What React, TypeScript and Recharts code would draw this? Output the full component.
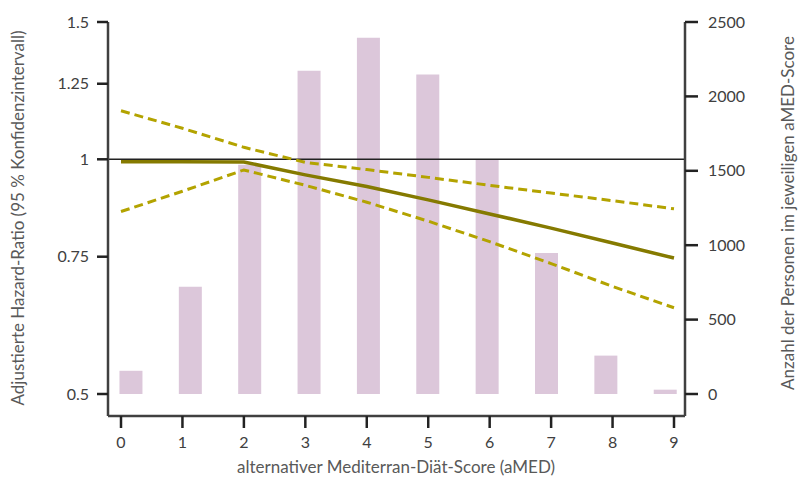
import {
  ComposedChart,
  Bar,
  Line,
  XAxis,
  YAxis,
  ReferenceLine,
} from 'recharts'

// aMED score categories
const scores = [0, 1, 2, 3, 4, 5, 6, 7, 8, 9]
// number of persons per score (right axis)
const persons = [156, 720, 1540, 2172, 2394, 2148, 1578, 947, 258, 29]
// adjusted hazard ratio and 95% CI (left axis, log scale)
const hazardRatio = [0.993, 0.993, 0.992, 0.955, 0.923, 0.887, 0.851, 0.816, 0.781, 0.747]
const upperCI = [1.154, 1.096, 1.036, 0.991, 0.97, 0.948, 0.926, 0.905, 0.885, 0.864]
const lowerCI = [0.857, 0.91, 0.969, 0.926, 0.881, 0.833, 0.784, 0.735, 0.687, 0.645]

const hrTicks = [0.5, 0.75, 1, 1.25, 1.5]
const countTicks = [0, 500, 1000, 1500, 2000, 2500]

const data = scores.map((x, i) => ({
  x,
  persons: persons[i],
  hr: hazardRatio[i],
  upper: upperCI[i],
  lower: lowerCI[i],
}))

const FONT = 'Lato, "Open Sans", sans-serif'
const tickStyle = { fontSize: 16, fill: '#404040', fontFamily: FONT }
const axisColor = '#404040'

export default function App() {
  return (
    <div style={{ position: 'absolute', left: 0, top: 0, background: '#fff' }}>
      <ComposedChart
        width={804}
        height={478}
        data={data}
        margin={{ top: 22, right: 29, bottom: 22, left: 28 }}
      >
        <XAxis
          xAxisId="main"
          dataKey="x"
          type="number"
          domain={[0, 9]}
          ticks={scores}
          padding={{ left: 13, right: 11 }}
          height={40}
          tick={tickStyle}
          tickSize={12}
          tickMargin={9}
          axisLine={{ stroke: axisColor, strokeWidth: 2.5 }}
          tickLine={{ stroke: '#222', strokeWidth: 2.5 }}
          label={{
            content: () => (
              <text
                x={396}
                y={473}
                textAnchor="middle"
                fontSize={17}
                fill="#595959"
                fontFamily={FONT}
              >
                alternativer Mediterran-Diät-Score (aMED)
              </text>
            ),
          }}
        />
        <XAxis
          xAxisId="bar"
          dataKey="x"
          type="number"
          domain={[-0.39, 9.33]}
          height={0}
          hide
        />
        <YAxis
          yAxisId="left"
          scale="log"
          domain={[0.5, 1.5]}
          ticks={hrTicks}
          allowDataOverflow
          width={80}
          padding={{ bottom: 22 }}
          tick={tickStyle}
          tickSize={11}
          tickMargin={8}
          axisLine={{ stroke: axisColor, strokeWidth: 2.5 }}
          tickLine={{ stroke: '#222', strokeWidth: 2.5 }}
          label={{
            content: () => (
              <text
                x={24}
                y={218}
                transform="rotate(-90 24 218)"
                textAnchor="middle"
                fontSize={17}
                fill="#595959"
                fontFamily={FONT}
              >
                Adjustierte Hazard-Ratio (95 % Konfidenzintervall)
              </text>
            ),
          }}
        />
        <YAxis
          yAxisId="right"
          orientation="right"
          domain={[0, 2500]}
          ticks={countTicks}
          width={90}
          padding={{ bottom: 22 }}
          tick={{ ...tickStyle, textAnchor: 'start' }}
          tickSize={13}
          tickMargin={10}
          axisLine={{ stroke: axisColor, strokeWidth: 2.5 }}
          tickLine={{ stroke: '#222', strokeWidth: 2.5 }}
          label={{
            content: () => (
              <text
                x={794}
                y={213}
                transform="rotate(-90 794 213)"
                textAnchor="middle"
                fontSize={17}
                fill="#595959"
                fontFamily={FONT}
              >
                Anzahl der Personen im jeweiligen aMED-Score
              </text>
            ),
          }}
        />
        <Bar
          xAxisId="bar"
          yAxisId="right"
          dataKey="persons"
          fill="#dcc7da"
          barSize={23}
          isAnimationActive={false}
        />
        <ReferenceLine xAxisId="main" yAxisId="left" y={1} stroke="#222" strokeWidth={1.5} />
        <Line
          xAxisId="main"
          yAxisId="left"
          type="linear"
          dataKey="upper"
          stroke="#b3a300"
          strokeWidth={3}
          strokeDasharray="9 5"
          dot={false}
          isAnimationActive={false}
        />
        <Line
          xAxisId="main"
          yAxisId="left"
          type="linear"
          dataKey="lower"
          stroke="#b3a300"
          strokeWidth={3}
          strokeDasharray="9 5"
          dot={false}
          isAnimationActive={false}
        />
        <Line
          xAxisId="main"
          yAxisId="left"
          type="linear"
          dataKey="hr"
          stroke="#857a00"
          strokeWidth={3.5}
          dot={false}
          isAnimationActive={false}
        />
      </ComposedChart>
    </div>
  )
}
